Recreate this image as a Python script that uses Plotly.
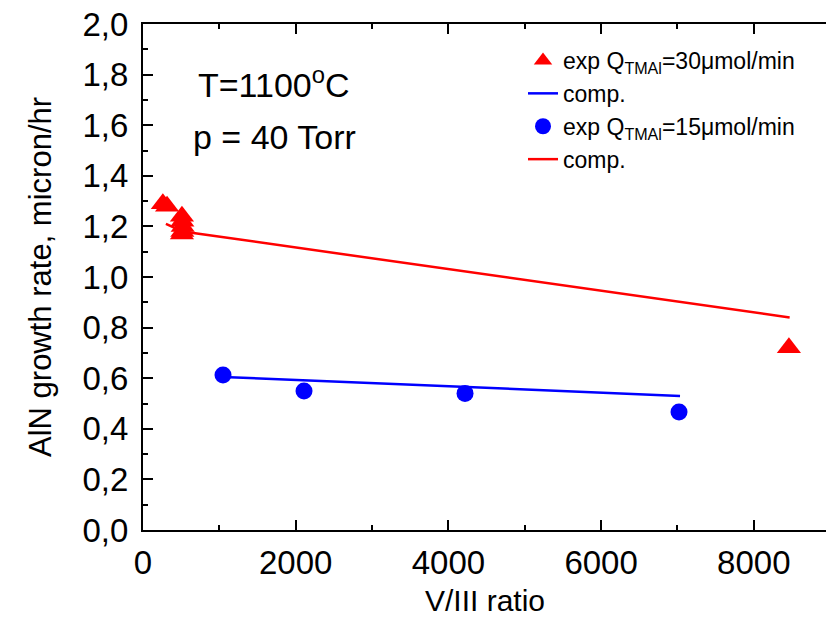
import plotly.graph_objects as go

# ---- data ----
red_exp_x = [260, 315, 510, 515, 520, 515, 510, 8460]
red_exp_y = [1.29, 1.28, 1.24, 1.22, 1.20, 1.18, 1.17, 0.72]
red_comp_x = [300, 520, 8470]
red_comp_y = [1.21, 1.18, 0.84]

blue_exp_x = [1048, 2109, 4218, 7021]
blue_exp_y = [0.613, 0.549, 0.54, 0.466]
blue_comp_x = [1048, 7034]
blue_comp_y = [0.605, 0.53]

x_tickvals = [0, 2000, 4000, 6000, 8000]
x_ticktext = ["0", "2000", "4000", "6000", "8000"]
y_tickvals = [0.0, 0.2, 0.4, 0.6, 0.8, 1.0, 1.2, 1.4, 1.6, 1.8, 2.0]
y_ticktext = ["0,0", "0,2", "0,4", "0,6", "0,8", "1,0", "1,2", "1,4", "1,6", "1,8", "2,0"]

RED = "#ff0000"
BLUE = "#0000ff"
FONT = "Liberation Sans, Arial, sans-serif"

fig = go.Figure()
fig.add_trace(go.Scatter(x=red_exp_x, y=red_exp_y, mode="markers",
                         marker=dict(symbol="triangle-up", size=21, color=RED),
                         name="exp Q<sub>TMAl</sub>=30μmol/min"))
fig.add_trace(go.Scatter(x=blue_comp_x, y=blue_comp_y, mode="lines",
                         line=dict(color=BLUE, width=2.5), name="comp."))
fig.add_trace(go.Scatter(x=blue_exp_x, y=blue_exp_y, mode="markers",
                         marker=dict(symbol="circle", size=17, color=BLUE),
                         name="exp Q<sub>TMAl</sub>=15μmol/min"))
fig.add_trace(go.Scatter(x=red_comp_x, y=red_comp_y, mode="lines",
                         line=dict(color=RED, width=2.5), name="comp."))

axis_common = dict(showgrid=False, zeroline=False, showline=True, linecolor="black",
                   linewidth=2, ticks="inside", tickcolor="black", tickwidth=1.5,
                   ticklen=10, tickfont=dict(family=FONT, size=33, color="black"))

fig.update_layout(
    width=826, height=619,
    margin=dict(l=143, r=0, t=24, b=89),
    paper_bgcolor="white", plot_bgcolor="white",
    font=dict(family=FONT, color="black"),
    showlegend=True,
    legend=dict(x=(523 - 143) / 683, y=(530 - 39) / 506, xanchor="left", yanchor="top",
                bgcolor="rgba(0,0,0,0)", font=dict(family=FONT, size=23, color="black"),
                tracegroupgap=0),
    xaxis=dict(range=[0, 8946], tickvals=x_tickvals, ticktext=x_ticktext,
               mirror="ticks", ticklabelstandoff=2,
               minor=dict(ticks="inside", ticklen=5, tickwidth=1.5, tickcolor="black", dtick=1000),
               **axis_common),
    yaxis=dict(range=[0, 2.0], tickvals=y_tickvals, ticktext=y_ticktext,
               ticklabelstandoff=6,
               minor=dict(ticks="inside", ticklen=5, tickwidth=1.5, tickcolor="black", dtick=0.1),
               **axis_common),
    yaxis2=dict(range=[0, 2.0], overlaying="y", side="right", showline=False,
                showgrid=False, zeroline=False, ticks="inside", ticklen=10, tickwidth=1.5,
                tickcolor="black", tickvals=y_tickvals, showticklabels=False,
                minor=dict(ticks="inside", ticklen=5, tickwidth=1.5, tickcolor="black", dtick=0.1)),
)

fig.add_annotation(text="T=1100<sup>o</sup>C", x=(274 - 143) / 683, y=(530 - 82) / 506,
                   xref="paper", yref="paper", showarrow=False,
                   xanchor="center", yanchor="middle",
                   font=dict(family=FONT, size=34, color="black"))
fig.add_annotation(text="p = 40 Torr", x=(274 - 143) / 683, y=(530 - 137) / 506,
                   xref="paper", yref="paper", showarrow=False,
                   xanchor="center", yanchor="middle",
                   font=dict(family=FONT, size=34, color="black"))
fig.add_annotation(text="V/III ratio", x=0.5, y=(530 - 600) / 506,
                   xref="paper", yref="paper", showarrow=False,
                   xanchor="center", yanchor="middle",
                   font=dict(family=FONT, size=30, color="black"))
fig.add_annotation(text="AlN growth rate, micron/hr", x=(40 - 143) / 683, y=0.5,
                   xref="paper", yref="paper", showarrow=False, textangle=-90,
                   xanchor="center", yanchor="middle",
                   font=dict(family=FONT, size=31, color="black"))

fig.write_html("out.html")
